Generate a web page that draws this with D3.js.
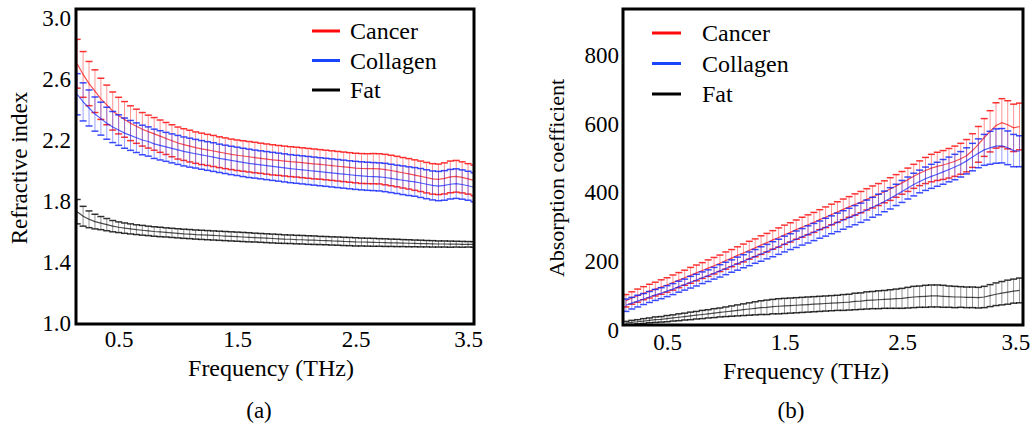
<!DOCTYPE html>
<html>
<head>
<meta charset="utf-8">
<script src="https://cdn.jsdelivr.net/npm/d3@7"></script>
<style>
  html, body { margin: 0; padding: 0; background: #fff; }
  svg { display: block; font-family: "Liberation Serif", "Times New Roman", serif; }
</style>
</head>
<body>
<script>
// frequency (THz) of every measured point
const freq = [
  0.15, 0.20, 0.25, 0.30, 0.35, 0.40, 0.45, 0.50, 0.55, 0.60,
  0.65, 0.70, 0.75, 0.80, 0.85, 0.90, 0.95, 1.00, 1.05, 1.10,
  1.15, 1.20, 1.25, 1.30, 1.35, 1.40, 1.45, 1.50, 1.55, 1.60,
  1.65, 1.70, 1.75, 1.80, 1.85, 1.90, 1.95, 2.00, 2.05, 2.10,
  2.15, 2.20, 2.25, 2.30, 2.35, 2.40, 2.45, 2.50, 2.55, 2.60,
  2.65, 2.70, 2.75, 2.80, 2.85, 2.90, 2.95, 3.00, 3.05, 3.10,
  3.15, 3.20, 3.25, 3.30, 3.35, 3.40, 3.45, 3.50
];

const tissues = ["Cancer", "Collagen", "Fat"];

// (a) refractive index, mean and standard deviation
const riCancer = [
  2.70, 2.63, 2.57, 2.52, 2.47, 2.43, 2.39, 2.36, 2.335, 2.31,
  2.29, 2.27, 2.255, 2.24, 2.225, 2.21, 2.195, 2.18, 2.17, 2.16,
  2.15, 2.142, 2.135, 2.128, 2.12, 2.113, 2.106, 2.10, 2.095, 2.09,
  2.085, 2.08, 2.075, 2.07, 2.066, 2.062, 2.058, 2.055, 2.051, 2.047,
  2.043, 2.04, 2.036, 2.032, 2.028, 2.024, 2.02, 2.016, 2.013, 2.012,
  2.012, 2.011, 2.006, 2.00, 1.993, 1.985, 1.978, 1.97, 1.962, 1.953,
  1.945, 1.942, 1.948, 1.958, 1.962, 1.955, 1.945, 1.935
];
const riCancerErr = [
  0.16, 0.15, 0.145, 0.14, 0.135, 0.13, 0.125, 0.12, 0.117, 0.114,
  0.112, 0.11, 0.108, 0.107, 0.106, 0.105, 0.105, 0.105, 0.104, 0.104,
  0.103, 0.103, 0.102, 0.102, 0.101, 0.101, 0.100, 0.100, 0.100, 0.100,
  0.100, 0.099, 0.099, 0.099, 0.098, 0.098, 0.098, 0.098, 0.098, 0.098,
  0.098, 0.097, 0.097, 0.097, 0.097, 0.097, 0.097, 0.097, 0.098, 0.098,
  0.099, 0.099, 0.100, 0.100, 0.100, 0.100, 0.100, 0.100, 0.100, 0.100,
  0.100, 0.100, 0.102, 0.104, 0.104, 0.102, 0.100, 0.100
];
const riCollagen = [
  2.50, 2.45, 2.41, 2.37, 2.34, 2.31, 2.285, 2.265, 2.245, 2.23,
  2.215, 2.20, 2.19, 2.175, 2.165, 2.155, 2.145, 2.135, 2.125, 2.117,
  2.11, 2.102, 2.095, 2.088, 2.08, 2.073, 2.066, 2.06, 2.053, 2.047,
  2.042, 2.037, 2.032, 2.027, 2.022, 2.017, 2.012, 2.008, 2.004, 2.00,
  1.996, 1.992, 1.988, 1.984, 1.98, 1.976, 1.972, 1.968, 1.965, 1.962,
  1.96, 1.958, 1.954, 1.948, 1.942, 1.936, 1.93, 1.925, 1.918, 1.91,
  1.902, 1.898, 1.902, 1.91, 1.914, 1.908, 1.90, 1.89
];
const riCollagenErr = [
  0.135, 0.125, 0.118, 0.112, 0.108, 0.105, 0.102, 0.100, 0.099, 0.098,
  0.097, 0.097, 0.096, 0.096, 0.096, 0.095, 0.095, 0.095, 0.095, 0.095,
  0.094, 0.094, 0.094, 0.094, 0.093, 0.093, 0.093, 0.093, 0.093, 0.093,
  0.092, 0.092, 0.092, 0.092, 0.092, 0.092, 0.092, 0.092, 0.092, 0.092,
  0.092, 0.092, 0.092, 0.092, 0.092, 0.092, 0.092, 0.092, 0.092, 0.092,
  0.092, 0.092, 0.093, 0.093, 0.093, 0.094, 0.094, 0.094, 0.095, 0.095,
  0.095, 0.096, 0.097, 0.097, 0.097, 0.096, 0.095, 0.095
];
const riFat = [
  1.73, 1.70, 1.68, 1.665, 1.655, 1.645, 1.635, 1.628, 1.622, 1.617,
  1.612, 1.608, 1.604, 1.60, 1.597, 1.594, 1.591, 1.588, 1.585, 1.583,
  1.58, 1.578, 1.576, 1.574, 1.572, 1.57, 1.568, 1.566, 1.564, 1.562,
  1.56, 1.558, 1.556, 1.554, 1.552, 1.55, 1.549, 1.547, 1.546, 1.544,
  1.543, 1.541, 1.54, 1.538, 1.537, 1.535, 1.534, 1.532, 1.531, 1.53,
  1.529, 1.528, 1.527, 1.526, 1.525, 1.524, 1.523, 1.522, 1.521, 1.52,
  1.519, 1.518, 1.518, 1.517, 1.517, 1.516, 1.516, 1.515
];
const riFatErr = [
  0.080, 0.065, 0.055, 0.048, 0.043, 0.040, 0.037, 0.035, 0.034, 0.033,
  0.032, 0.032, 0.031, 0.031, 0.031, 0.030, 0.030, 0.030, 0.030, 0.030,
  0.030, 0.030, 0.030, 0.030, 0.030, 0.030, 0.030, 0.030, 0.030, 0.030,
  0.029, 0.029, 0.029, 0.029, 0.029, 0.028, 0.028, 0.028, 0.028, 0.028,
  0.028, 0.027, 0.027, 0.027, 0.027, 0.027, 0.027, 0.027, 0.026, 0.026,
  0.026, 0.025, 0.025, 0.024, 0.024, 0.023, 0.023, 0.022, 0.022, 0.021,
  0.021, 0.020, 0.020, 0.020, 0.019, 0.019, 0.018, 0.018
];

// (b) absorption coefficient, mean and standard deviation
const abCancer = [
  85, 93, 100, 107, 113, 119, 125, 131, 138, 145,
  152, 159, 166, 173, 180, 187, 194, 202, 209, 217,
  224, 232, 239, 247, 254, 262, 269, 277, 284, 292,
  299, 306, 313, 321, 328, 336, 343, 351, 358, 365,
  372, 380, 387, 394, 402, 410, 419, 428, 437, 447,
  456, 464, 471, 476, 480, 485, 491, 498, 507, 522,
  540, 560, 578, 595, 603, 597, 588, 592
];
const abCancerErr = [
  18, 18, 19, 19, 20, 20, 21, 21, 22, 22,
  22, 23, 23, 23, 24, 24, 24, 25, 25, 25,
  26, 26, 26, 27, 27, 27, 28, 28, 28, 28,
  29, 29, 29, 29, 30, 30, 30, 30, 30, 31,
  31, 31, 32, 32, 32, 33, 33, 33, 34, 35,
  36, 38, 40, 41, 42, 43, 44, 45, 47, 49,
  52, 55, 60, 66, 70, 70, 69, 68
];
const abCollagen = [
  72, 78, 84, 90, 96, 102, 107, 113, 119, 126,
  132, 139, 145, 152, 158, 165, 172, 179, 186, 193,
  200, 207, 214, 221, 228, 235, 242, 250, 257, 264,
  271, 278, 285, 292, 299, 306, 313, 320, 327, 334,
  341, 349, 357, 365, 374, 383, 393, 403, 413, 423,
  432, 440, 447, 453, 460, 467, 474, 482, 492, 503,
  514, 524, 530, 535, 536, 530, 522, 520
];
const abCollagenErr = [
  18, 17, 17, 16, 16, 16, 16, 16, 16, 16,
  16, 17, 17, 17, 17, 17, 18, 18, 18, 19,
  19, 20, 20, 21, 21, 22, 22, 23, 23, 24,
  24, 25, 25, 25, 26, 26, 27, 27, 27, 28,
  28, 29, 29, 30, 30, 31, 31, 32, 32, 33,
  33, 34, 35, 35, 36, 36, 37, 37, 38, 40,
  42, 45, 48, 50, 50, 49, 47, 45
];
const abFat = [
  20, 22, 24, 26, 28, 30, 31, 33, 35, 37,
  39, 41, 43, 45, 47, 49, 51, 53, 55, 57,
  59, 61, 63, 65, 66, 68, 69, 70, 71, 72,
  73, 74, 75, 76, 77, 78, 79, 80, 81, 83,
  84, 86, 87, 88, 89, 90, 91, 92, 94, 96,
  97, 98, 99, 99, 98, 97, 96, 96, 95, 95,
  94, 96, 100, 104, 107, 110, 113, 115
];
const abFatErr = [
  5, 6, 6, 7, 7, 8, 8, 9, 9, 10,
  10, 11, 11, 12, 12, 13, 13, 14, 15, 16,
  17, 18, 19, 20, 21, 21, 22, 22, 22, 22,
  22, 22, 22, 22, 22, 22, 22, 23, 23, 24,
  24, 25, 25, 26, 26, 27, 28, 29, 30, 31,
  31, 32, 32, 32, 32, 31, 31, 30, 30, 30,
  30, 31, 32, 33, 34, 35, 35, 36
];

// tick labels
const freqTicks = [0.5, 1.5, 2.5, 3.5];
const riTicks = [1.0, 1.4, 1.8, 2.2, 2.6, 3.0];
const abTicks = [0, 200, 400, 600, 800];

const colors = {Cancer: "#ff0000", Collagen: "#0a1eff", Fat: "#000000"};
const legendColors = {Cancer: "#ff0a0a", Collagen: "#1a45ff", Fat: "#000000"};

const svg = d3.select("body").append("svg")
    .attr("width", 1032)
    .attr("height", 430);

function drawPanel(p) {
  const x = d3.scaleLinear().domain(p.xDomain).range([p.left, p.right]);
  const y = d3.scaleLinear().domain(p.yDomain).range([p.bottom, p.top]);

  svg.append("clipPath").attr("id", p.id + "-clip")
    .append("rect")
      .attr("x", p.left).attr("y", p.top)
      .attr("width", p.right - p.left).attr("height", p.bottom - p.top);

  const plot = svg.append("g").attr("clip-path", "url(#" + p.id + "-clip)");

  p.series.forEach(function(s) {
    const rows = freq.map(function(f, i) { return {f: f, m: s.mean[i], e: s.err[i]}; });
    const c = colors[s.name];
    const sg = plot.append("g");

    // vertical error bars
    sg.selectAll("line.bar")
      .data(rows)
      .enter()
      .append("line")
        .attr("class", "bar")
        .attr("x1", function(d) { return x(d.f); })
        .attr("x2", function(d) { return x(d.f); })
        .attr("y1", function(d) { return y(d.m + d.e); })
        .attr("y2", function(d) { return y(d.m - d.e); })
        .attr("stroke", c)
        .attr("stroke-opacity", 0.42)
        .attr("stroke-width", 1);

    // caps at both ends
    [1, -1].forEach(function(sign) {
      sg.selectAll("line.cap" + sign)
        .data(rows)
        .enter()
        .append("line")
          .attr("x1", function(d) { return x(d.f) - 3.5; })
          .attr("x2", function(d) { return x(d.f) + 3.5; })
          .attr("y1", function(d) { return y(d.m + sign * d.e); })
          .attr("y2", function(d) { return y(d.m + sign * d.e); })
          .attr("stroke", c)
          .attr("stroke-opacity", 0.8)
          .attr("stroke-width", 1.5);
    });

    // mean curve
    sg.append("path")
      .datum(rows)
      .attr("fill", "none")
      .attr("stroke", c)
      .attr("stroke-opacity", 0.7)
      .attr("stroke-width", 1.2)
      .attr("d", d3.line().x(function(d) { return x(d.f); }).y(function(d) { return y(d.m); }));
  });

  // frame
  svg.append("rect")
    .attr("x", p.left).attr("y", p.top)
    .attr("width", p.right - p.left).attr("height", p.bottom - p.top)
    .attr("fill", "none")
    .attr("stroke", "#000")
    .attr("stroke-width", 3);

  // axes (labels only, no tick marks)
  const xAxis = svg.append("g")
    .attr("transform", "translate(0," + p.bottom + ")")
    .call(d3.axisBottom(x).tickValues(freqTicks).tickFormat(d3.format(".1f")).tickSize(0).tickPadding(p.xPad));
  const yAxis = svg.append("g")
    .attr("transform", "translate(" + p.left + ",0)")
    .call(d3.axisLeft(y).tickValues(p.yTicks).tickFormat(p.yFormat).tickSize(0).tickPadding(p.yPad));
  [xAxis, yAxis].forEach(function(a) {
    a.select(".domain").remove();
    a.attr("font-family", null).attr("font-size", null);
    a.selectAll("text").attr("font-size", 23).attr("fill", "#000");
  });
  // last frequency label sits a little inside the right edge
  xAxis.selectAll("text").filter(function(d) { return d === 3.5; })
    .attr("dx", p.lastShift);

  // axis titles
  svg.append("text")
    .attr("x", p.xTitle[0]).attr("y", p.xTitle[1])
    .attr("text-anchor", "middle")
    .attr("font-size", 24)
    .text("Frequency (THz)");
  svg.append("text")
    .attr("transform", "translate(" + p.yTitle[0] + "," + p.yTitle[1] + ") rotate(-90)")
    .attr("text-anchor", "middle")
    .attr("font-size", p.yTitleSize)
    .text(p.yLabel);
  svg.append("text")
    .attr("x", p.tag[0]).attr("y", p.tag[1])
    .attr("text-anchor", "middle")
    .attr("font-size", 23)
    .text(p.tagText);

  // legend
  const lg = svg.append("g");
  tissues.forEach(function(t, i) {
    const ly = p.legend.y + i * p.legend.step;
    lg.append("line")
      .attr("x1", p.legend.x1).attr("x2", p.legend.x2)
      .attr("y1", ly).attr("y2", ly)
      .attr("stroke", legendColors[t])
      .attr("stroke-width", 3);
    lg.append("text")
      .attr("x", p.legend.tx).attr("y", ly + 8)
      .attr("font-size", 24)
      .text(t);
  });
}

drawPanel({
  id: "ri",
  left: 76, right: 474, top: 9, bottom: 324,
  xDomain: [0.14, 3.5],
  yDomain: [0.9934, 3.059],
  yTicks: riTicks,
  yFormat: d3.format(".1f"),
  xPad: 7, yPad: 5, lastShift: -6,
  series: [
    {name: "Fat", mean: riFat, err: riFatErr},
    {name: "Cancer", mean: riCancer, err: riCancerErr},
    {name: "Collagen", mean: riCollagen, err: riCollagenErr}
  ],
  xTitle: [271, 376],
  yTitle: [27, 168], yTitleSize: 23,
  yLabel: "Refractive index",
  tag: [259, 418], tagText: "(a)",
  legend: {x1: 312, x2: 340, tx: 350, y: 31, step: 29.5}
});

drawPanel({
  id: "ab",
  left: 623, right: 1023, top: 9, bottom: 325,
  xDomain: [0.125, 3.53],
  yDomain: [14.5, 933.8],
  yTicks: abTicks,
  yFormat: d3.format("d"),
  xPad: 9, yPad: 4, lastShift: -4,
  series: [
    {name: "Fat", mean: abFat, err: abFatErr},
    {name: "Cancer", mean: abCancer, err: abCancerErr},
    {name: "Collagen", mean: abCollagen, err: abCollagenErr}
  ],
  xTitle: [806, 379],
  yTitle: [564, 178], yTitleSize: 22,
  yLabel: "Absorption coefficient",
  tag: [791, 418], tagText: "(b)",
  legend: {x1: 652, x2: 681, tx: 702, y: 33, step: 30.5}
});
</script>
</body>
</html>
